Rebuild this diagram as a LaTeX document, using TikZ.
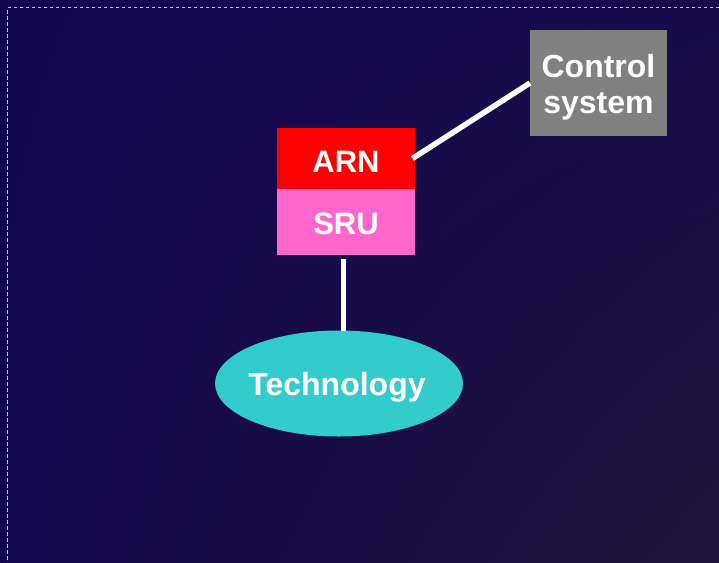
\documentclass[tikz,border=0pt]{standalone}
\usepackage{fontspec}
\setmainfont{Liberation Sans}
\usetikzlibrary{shapes.geometric,shadings}
\definecolor{bgUL}{HTML}{12064F}
\definecolor{bgUR}{HTML}{170B4C}
\definecolor{bgLL}{HTML}{13074F}
\definecolor{bgLR}{HTML}{20153A}
\definecolor{arnred}{HTML}{FF0000}
\definecolor{srupink}{HTML}{FF66CC}
\definecolor{ctrlgray}{HTML}{808080}
\definecolor{techcyan}{HTML}{33CCCC}
\definecolor{framegray}{HTML}{C4C0E0}
\tikzset{
  box/.style={rectangle, inner sep=0pt, outer sep=0pt, text=white,
    font=\fontsize{31}{36}\selectfont\bfseries, align=center},
  bigtext/.style={font=\fontsize{32}{36}\selectfont\bfseries},
  link/.style={draw=white, line width=5.5pt},
}
\begin{document}
\begin{tikzpicture}[x=1pt,y=-1pt]
  % canvas with a soft four-corner shading
  \useasboundingbox (0,0) rectangle (719,562);
  \shade[upper left=bgUL, upper right=bgUR, lower left=bgLL, lower right=bgLR]
    (0,0) rectangle (719,562);
  % dashed frame along the top and left
  \draw[framegray, line width=1pt, dash pattern=on 3.5pt off 2.5pt]
    (719,7.5) -- (7.5,7.5) -- (7.5,562);

  \node[box, fill=arnred, minimum width=138pt, minimum height=61pt,
        text height=28pt, text depth=0pt]
    (arn) at (346,158.5) {ARN};
  \node[box, fill=srupink, minimum width=138pt, minimum height=66pt,
        text height=25pt, text depth=0pt]
    (sru) at (346,222) {SRU};
  \node[box, bigtext, fill=ctrlgray, minimum width=137pt, minimum height=106pt]
    (ctrl) at (598.5,83) {\rule{0pt}{31pt}Control\\system};
  \node[box, bigtext, ellipse, fill=techcyan, inner xsep=-6pt,
        minimum width=248pt, minimum height=106pt,
        text height=23pt, text depth=0pt]
    (tech) at (339,383.5) {Technology\kern4pt};

  \coordinate (sruout) at ([yshift=-4pt]sru.south -| 343.7,0);
  \draw[link] (sruout) -- (sruout |- tech.north);
  \draw[link] ([xshift=-2.5pt]arn.east) -- (ctrl.west);
\end{tikzpicture}
\end{document}
